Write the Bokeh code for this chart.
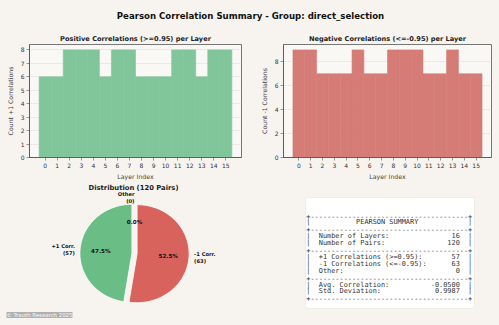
import numpy as np
from bokeh.plotting import figure
from bokeh.layouts import column, row
from bokeh.models import Range1d, FixedTicker, BoxAnnotation
from bokeh.core.properties import value
from bokeh.embed import file_html
from bokeh.resources import INLINE

# ---------------- data ----------------
main_title = "Pearson Correlation Summary - Group: direct_selection"
layers = list(range(16))
pos_counts = [6, 6, 8, 8, 8, 6, 8, 8, 6, 6, 6, 8, 8, 6, 8, 8]
neg_counts = [9, 9, 7, 7, 7, 9, 7, 7, 9, 9, 9, 7, 7, 9, 7, 7]
pos_title = "Positive Correlations (>=0.95) per Layer"
neg_title = "Negative Correlations (<=-0.95) per Layer"
pos_ylabel = "Count +1 Correlations"
neg_ylabel = "Count -1 Correlations"
x_label = "Layer Index"

pie_labels = ["+1 Corr.", "-1 Corr.", "Other"]
pie_counts = [57, 63, 0]
pie_title = "Distribution (120 Pairs)"

summary_rows = [
    [("Number of Layers:", "16"), ("Number of Pairs:", "120")],
    [("+1 Correlations (>=0.95):", "57"), ("-1 Correlations (<=-0.95):", "63"), ("Other:", "0")],
    [("Avg. Correlation:", "-0.0500"), ("Std. Deviation:", "0.9987")],
]
summary_title = "PEARSON SUMMARY"
watermark = "\u00a9 Trauth Research 2025"

# ---------------- styles ----------------
BG = "#f7f4f0"
AX_BG = "#faf8f5"
FONT = "DejaVu Sans"
MONO = "DejaVu Sans Mono"
BAR_GREEN = "#80c69a"
BAR_RED = "#d57c77"
PIE_GREEN = "#6bbd86"
PIE_RED = "#d8635d"
pie_colors = [PIE_GREEN, PIE_RED, "#bbbbbb"]


def bar_fig(counts, color, title, ylabel, ymax, yticks, width, left, right, top):
    p = figure(width=width, height=154, x_range=Range1d(-1.3, 16.3), y_range=Range1d(0, ymax),
               output_backend="svg", toolbar_location=None,
               min_border_left=left, min_border_right=right, min_border_top=top, min_border_bottom=19)
    p.border_fill_color = BG
    p.background_fill_color = AX_BG
    p.outline_line_color = "#555555"
    p.outline_line_width = 0.8
    p.title.text = title
    p.title.align = "center"
    p.title.text_font = FONT
    p.title.text_font_size = "6.6px"
    p.title.text_font_style = "bold"
    p.title.text_color = "#222222"
    p.title.standoff = 4
    p.vbar(x=layers, top=counts, width=1.0, fill_color=color, line_color=color, line_width=0.6)
    p.xgrid.grid_line_color = None
    p.ygrid.grid_line_color = "#e2ded9"
    p.ygrid.grid_line_width = 0.6
    p.xaxis.ticker = FixedTicker(ticks=layers)
    p.yaxis.ticker = FixedTicker(ticks=yticks)
    for ax in (p.xaxis[0], p.yaxis[0]):
        ax.major_label_text_font = FONT
        ax.major_label_text_font_size = "6px"
        ax.major_label_text_color = "#333333"
        ax.axis_label_text_font = FONT
        ax.axis_label_text_font_size = "6.2px"
        ax.axis_label_text_font_style = "normal"
        ax.axis_label_text_color = "#444444"
        ax.minor_tick_line_color = None
        ax.major_tick_in = 0
        ax.major_tick_out = 3
        ax.major_tick_line_color = "#555555"
        ax.major_tick_line_width = 0.6
        ax.axis_line_color = "#555555"
        ax.axis_line_width = 0.8
        ax.major_label_standoff = 2
        ax.axis_label_standoff = 2
    p.xaxis.axis_label = x_label
    p.yaxis.axis_label = ylabel
    p.yaxis.axis_label_standoff = 4
    return p


p1 = bar_fig(pos_counts, BAR_GREEN, pos_title, pos_ylabel, 8.4, list(range(9)), 250, 29, 9, 16)
p2 = bar_fig(neg_counts, BAR_RED, neg_title, neg_ylabel, 9.45, [0, 2, 4, 6, 8], 249, 33, 8, 13)

# ---------------- title strip ----------------
pt = figure(width=499, height=28, x_range=Range1d(0, 499), y_range=Range1d(28, 0),
            output_backend="svg", toolbar_location=None, min_border=0,
            x_axis_location=None, y_axis_location=None)
pt.border_fill_color = BG
pt.background_fill_color = BG
pt.outline_line_color = None
pt.grid.grid_line_color = None
pt.text(x=[250], y=[15.5], text=[main_title], text_font=value(FONT), text_font_size="8.6px",
        text_font_style="bold", text_align="center", text_baseline="middle", text_color="#111111")

# ---------------- pie ----------------
SX, SY = 52.0, 49.0       # px per unit radius
CX, CY = 134.0, 253.0 - 182.0
pp = figure(width=250, height=143,
            x_range=Range1d(-CX / SX, (250 - CX) / SX),
            y_range=Range1d(-(143 - CY) / SY, CY / SY),
            output_backend="svg", toolbar_location=None, min_border=0,
            x_axis_location=None, y_axis_location=None)
pp.border_fill_color = BG
pp.background_fill_color = BG
pp.outline_line_color = None
pp.grid.grid_line_color = None

total = float(sum(pie_counts))
explode = 0.05
start = 90.0
xs, ys, cols = [], [], []
lab_x, lab_y, lab_t, lab_align = [], [], [], []
pct_x, pct_y, pct_t = [], [], []
for lab, cnt, col in zip(pie_labels, pie_counts, pie_colors):
    sweep = 360.0 * cnt / total
    t1, t2 = start, start + sweep
    mid = np.deg2rad((t1 + t2) / 2)
    ox, oy = explode * np.cos(mid), explode * np.sin(mid)
    if cnt > 0:
        th = np.deg2rad(np.linspace(t1, t2, 120))
        xs.append(np.concatenate([[ox], ox + np.cos(th), [ox]]).tolist())
        ys.append(np.concatenate([[oy], oy + np.sin(th), [oy]]).tolist())
        cols.append(col)
    lx, ly = ox + 1.1 * np.cos(mid), oy + 1.1 * np.sin(mid)
    lab_x.append(lx); lab_y.append(ly)
    lab_t.append(f"{lab}\n({cnt})")
    lab_align.append("left" if lx > 1e-9 else "right")
    pct_x.append(ox + 0.6 * np.cos(mid)); pct_y.append(oy + 0.6 * np.sin(mid))
    pct_t.append(f"{100.0 * cnt / total:.1f}%")
    start = t2

pp.patches(xs=xs, ys=ys, fill_color=cols, line_color="white", line_width=0.8)
pp.text(x=lab_x, y=lab_y, text=lab_t, text_align=lab_align, text_baseline="middle",
        text_font=value(FONT), text_font_size="5.2px", text_font_style="bold",
        text_color="#111111", text_line_height=1.15)
pp.text(x=pct_x, y=pct_y, text=pct_t, text_align="center", text_baseline="middle",
        text_font=value(FONT), text_font_size="5.6px", text_font_style="bold", text_color="#111111")
pp.text(x=[(133 - CX) / SX], y=[(CY - 5.5) / SY], text=[pie_title], text_align="center",
        text_baseline="middle", text_font=value(FONT), text_font_size="6.8px",
        text_font_style="bold", text_color="#222222")
pp.text(x=[(6 - CX) / SX], y=[-(143 - CY - 10.5) / SY], text=[watermark], text_align="left",
        text_baseline="middle", text_font=value(FONT), text_font_size="5.4px",
        text_color="#ffffff", background_fill_color="#a9a9a9", background_fill_alpha=0.9,
        text_alpha=0.95)

# ---------------- summary box ----------------
pb = figure(width=249, height=143, x_range=Range1d(0, 249), y_range=Range1d(143, 0),
            output_backend="svg", toolbar_location=None, min_border=0,
            x_axis_location=None, y_axis_location=None)
pb.border_fill_color = BG
pb.background_fill_color = BG
pb.outline_line_color = None
pb.grid.grid_line_color = None
pb.add_layout(BoxAnnotation(left=55, right=224, top=15, bottom=126, fill_color="white", fill_alpha=1.0,
                            line_color="#c9c6c2", line_width=0.8, border_radius=3, level="underlay"))

W = 40
border = "+" + "-" * (W - 2) + "+"
lines = [border, "|" + summary_title.center(W - 2) + "|", border]
for group in summary_rows:
    for lab, val in group:
        lines.append("|  " + lab.ljust(34 - len(val)) + val + "  |")
    lines.append(border)
lines = [ln.replace(" ", "\u00a0") for ln in lines]

pb.text(x=[55.8] * len(lines), y=[33 + 6.9 * i for i in range(len(lines))], text=lines,
        text_align="left", text_baseline="middle", text_font=value(MONO), text_font_size="6.9px",
        text_color="#333333", level="overlay")

layout = column(pt, row(p1, p2), row(pp, pb))
html = file_html(layout, INLINE)
html = html.replace("<body>", "<body style=\"margin:0;background:#f7f4f0\">")
open("out.html", "w").write(html)
